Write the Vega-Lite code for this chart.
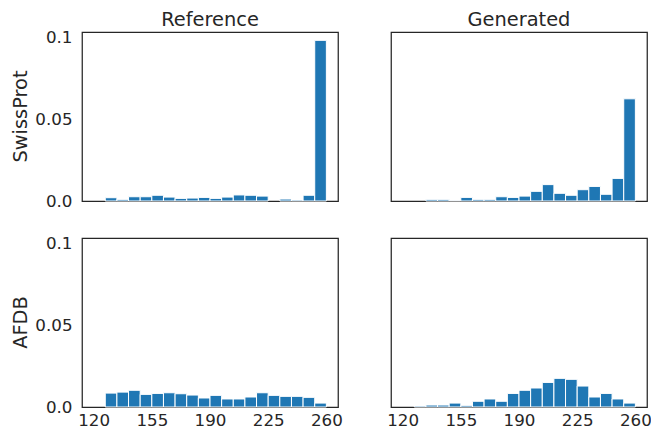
{
  "$schema": "https://vega.github.io/schema/vega-lite/v6.json",
  "padding": {"left": 11, "top": 9, "right": 0, "bottom": 0},
  "config": {
    "font": "DejaVu Sans",
    "view": {"stroke": "#262626", "strokeWidth": 1.25},
    "axis": {"grid": false, "ticks": false, "domain": false, "labelFont": "DejaVu Sans", "labelFontSize": 16.7, "labelColor": "#262626", "title": null}
  },
  "data": {"values": [
    {"src": "SwissProt", "set": "Reference", "x0": 127, "x1": 134, "d": 0.0020},
    {"src": "SwissProt", "set": "Reference", "x0": 134, "x1": 141, "d": 0.0010},
    {"src": "SwissProt", "set": "Reference", "x0": 141, "x1": 148, "d": 0.0026},
    {"src": "SwissProt", "set": "Reference", "x0": 148, "x1": 155, "d": 0.0026},
    {"src": "SwissProt", "set": "Reference", "x0": 155, "x1": 162, "d": 0.0035},
    {"src": "SwissProt", "set": "Reference", "x0": 162, "x1": 169, "d": 0.0024},
    {"src": "SwissProt", "set": "Reference", "x0": 169, "x1": 176, "d": 0.0016},
    {"src": "SwissProt", "set": "Reference", "x0": 176, "x1": 183, "d": 0.0018},
    {"src": "SwissProt", "set": "Reference", "x0": 183, "x1": 190, "d": 0.0022},
    {"src": "SwissProt", "set": "Reference", "x0": 190, "x1": 197, "d": 0.0016},
    {"src": "SwissProt", "set": "Reference", "x0": 197, "x1": 204, "d": 0.0024},
    {"src": "SwissProt", "set": "Reference", "x0": 204, "x1": 211, "d": 0.0037},
    {"src": "SwissProt", "set": "Reference", "x0": 211, "x1": 218, "d": 0.0035},
    {"src": "SwissProt", "set": "Reference", "x0": 218, "x1": 225, "d": 0.0030},
    {"src": "SwissProt", "set": "Reference", "x0": 232, "x1": 239, "d": 0.0012},
    {"src": "SwissProt", "set": "Reference", "x0": 239, "x1": 246, "d": 0.0006},
    {"src": "SwissProt", "set": "Reference", "x0": 246, "x1": 253, "d": 0.0035},
    {"src": "SwissProt", "set": "Reference", "x0": 253, "x1": 260, "d": 0.0981},
    {"src": "SwissProt", "set": "Generated", "x0": 134, "x1": 141, "d": 0.0010},
    {"src": "SwissProt", "set": "Generated", "x0": 141, "x1": 148, "d": 0.0010},
    {"src": "SwissProt", "set": "Generated", "x0": 148, "x1": 155, "d": 0.0004},
    {"src": "SwissProt", "set": "Generated", "x0": 155, "x1": 162, "d": 0.0022},
    {"src": "SwissProt", "set": "Generated", "x0": 162, "x1": 169, "d": 0.0010},
    {"src": "SwissProt", "set": "Generated", "x0": 169, "x1": 176, "d": 0.0010},
    {"src": "SwissProt", "set": "Generated", "x0": 176, "x1": 183, "d": 0.0026},
    {"src": "SwissProt", "set": "Generated", "x0": 183, "x1": 190, "d": 0.0022},
    {"src": "SwissProt", "set": "Generated", "x0": 190, "x1": 197, "d": 0.0030},
    {"src": "SwissProt", "set": "Generated", "x0": 197, "x1": 204, "d": 0.0059},
    {"src": "SwissProt", "set": "Generated", "x0": 204, "x1": 211, "d": 0.0100},
    {"src": "SwissProt", "set": "Generated", "x0": 211, "x1": 218, "d": 0.0047},
    {"src": "SwissProt", "set": "Generated", "x0": 218, "x1": 225, "d": 0.0035},
    {"src": "SwissProt", "set": "Generated", "x0": 225, "x1": 232, "d": 0.0069},
    {"src": "SwissProt", "set": "Generated", "x0": 232, "x1": 239, "d": 0.0089},
    {"src": "SwissProt", "set": "Generated", "x0": 239, "x1": 246, "d": 0.0041},
    {"src": "SwissProt", "set": "Generated", "x0": 246, "x1": 253, "d": 0.0138},
    {"src": "SwissProt", "set": "Generated", "x0": 253, "x1": 260, "d": 0.0624},
    {"src": "AFDB", "set": "Reference", "x0": 127, "x1": 134, "d": 0.0085},
    {"src": "AFDB", "set": "Reference", "x0": 134, "x1": 141, "d": 0.0091},
    {"src": "AFDB", "set": "Reference", "x0": 141, "x1": 148, "d": 0.0102},
    {"src": "AFDB", "set": "Reference", "x0": 148, "x1": 155, "d": 0.0077},
    {"src": "AFDB", "set": "Reference", "x0": 155, "x1": 162, "d": 0.0083},
    {"src": "AFDB", "set": "Reference", "x0": 162, "x1": 169, "d": 0.0087},
    {"src": "AFDB", "set": "Reference", "x0": 169, "x1": 176, "d": 0.0081},
    {"src": "AFDB", "set": "Reference", "x0": 176, "x1": 183, "d": 0.0073},
    {"src": "AFDB", "set": "Reference", "x0": 183, "x1": 190, "d": 0.0055},
    {"src": "AFDB", "set": "Reference", "x0": 190, "x1": 197, "d": 0.0071},
    {"src": "AFDB", "set": "Reference", "x0": 197, "x1": 204, "d": 0.0049},
    {"src": "AFDB", "set": "Reference", "x0": 204, "x1": 211, "d": 0.0049},
    {"src": "AFDB", "set": "Reference", "x0": 211, "x1": 218, "d": 0.0061},
    {"src": "AFDB", "set": "Reference", "x0": 218, "x1": 225, "d": 0.0087},
    {"src": "AFDB", "set": "Reference", "x0": 225, "x1": 232, "d": 0.0071},
    {"src": "AFDB", "set": "Reference", "x0": 232, "x1": 239, "d": 0.0065},
    {"src": "AFDB", "set": "Reference", "x0": 239, "x1": 246, "d": 0.0065},
    {"src": "AFDB", "set": "Reference", "x0": 246, "x1": 253, "d": 0.0059},
    {"src": "AFDB", "set": "Reference", "x0": 253, "x1": 260, "d": 0.0024},
    {"src": "AFDB", "set": "Generated", "x0": 127, "x1": 134, "d": 0.0006},
    {"src": "AFDB", "set": "Generated", "x0": 134, "x1": 141, "d": 0.0012},
    {"src": "AFDB", "set": "Generated", "x0": 141, "x1": 148, "d": 0.0012},
    {"src": "AFDB", "set": "Generated", "x0": 148, "x1": 155, "d": 0.0024},
    {"src": "AFDB", "set": "Generated", "x0": 155, "x1": 162, "d": 0.0010},
    {"src": "AFDB", "set": "Generated", "x0": 162, "x1": 169, "d": 0.0035},
    {"src": "AFDB", "set": "Generated", "x0": 169, "x1": 176, "d": 0.0049},
    {"src": "AFDB", "set": "Generated", "x0": 176, "x1": 183, "d": 0.0035},
    {"src": "AFDB", "set": "Generated", "x0": 183, "x1": 190, "d": 0.0083},
    {"src": "AFDB", "set": "Generated", "x0": 190, "x1": 197, "d": 0.0102},
    {"src": "AFDB", "set": "Generated", "x0": 197, "x1": 204, "d": 0.0116},
    {"src": "AFDB", "set": "Generated", "x0": 204, "x1": 211, "d": 0.0150},
    {"src": "AFDB", "set": "Generated", "x0": 211, "x1": 218, "d": 0.0175},
    {"src": "AFDB", "set": "Generated", "x0": 218, "x1": 225, "d": 0.0169},
    {"src": "AFDB", "set": "Generated", "x0": 225, "x1": 232, "d": 0.0128},
    {"src": "AFDB", "set": "Generated", "x0": 232, "x1": 239, "d": 0.0061},
    {"src": "AFDB", "set": "Generated", "x0": 239, "x1": 246, "d": 0.0083},
    {"src": "AFDB", "set": "Generated", "x0": 246, "x1": 253, "d": 0.0049},
    {"src": "AFDB", "set": "Generated", "x0": 253, "x1": 260, "d": 0.0024}
  ]},
  "facet": {
    "row": {"field": "src", "type": "nominal", "sort": ["SwissProt", "AFDB"],
      "header": {"title": null, "labelAngle": -90, "labelOrient": "left", "labelFont": "DejaVu Sans", "labelFontSize": 19.4, "labelColor": "#262626", "labelPadding": -6}},
    "column": {"field": "set", "type": "nominal", "sort": ["Reference", "Generated"],
      "header": {"title": null, "labelFont": "DejaVu Sans", "labelFontSize": 19.4, "labelColor": "#262626", "labelPadding": 1}}
  },
  "spacing": {"row": 34, "column": 51},
  "spec": {
    "width": 256,
    "height": 169,
    "mark": {"type": "bar", "color": "#1f77b4", "stroke": "white", "strokeWidth": 1},
    "encoding": {
      "x": {"field": "x0", "type": "quantitative", "scale": {"domain": [113, 267], "nice": false, "zero": false},
        "axis": {"values": [120, 155, 190, 225, 260], "labelPadding": 3}},
      "x2": {"field": "x1"},
      "y": {"field": "d", "type": "quantitative", "scale": {"domain": [0, 0.1032], "nice": false},
        "axis": {"values": [0, 0.05, 0.1], "labelExpr": "datum.value == 0 ? '0.0' : datum.value == 0.05 ? '0.05' : '0.1'", "labelPadding": 9}},
      "y2": {"datum": 0}
    }
  }
}
